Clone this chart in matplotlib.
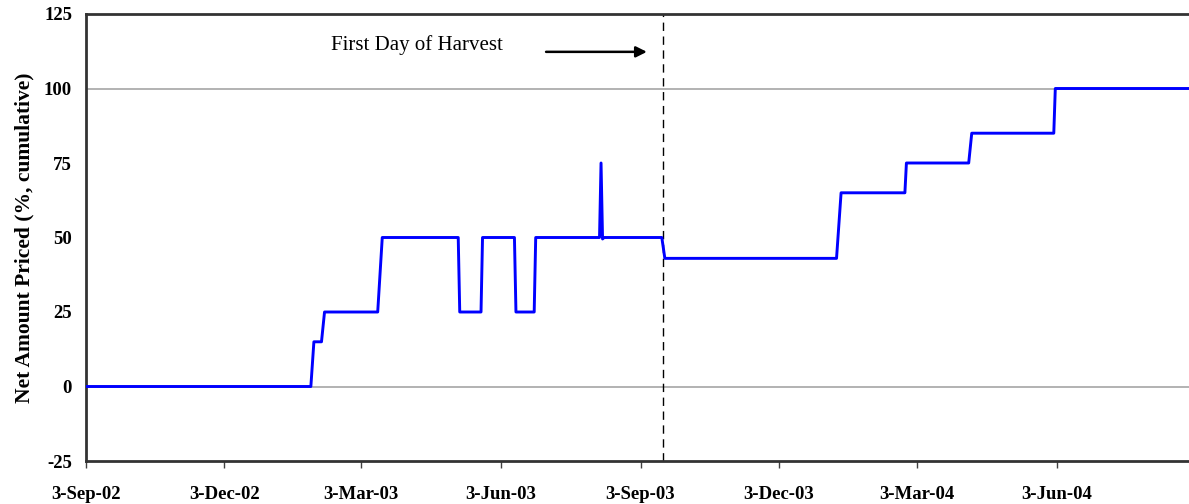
#!/usr/bin/env python3
import pandas as pd
import matplotlib
matplotlib.use("Agg")
import matplotlib.pyplot as plt

plt.rcParams['font.family'] = ['Liberation Serif', 'DejaVu Serif']

# breakpoints of the net amount priced series
dates = ["2002-09-03", "2003-01-29", "2003-01-31", "2003-02-05", "2003-02-07",
         "2003-03-14", "2003-03-17", "2003-05-06", "2003-05-07", "2003-05-21",
         "2003-05-22", "2003-06-12", "2003-06-13", "2003-06-25", "2003-06-26",
         "2003-08-07", "2003-08-08", "2003-08-09", "2003-08-10", "2003-09-17",
         "2003-09-19", "2004-01-10", "2004-01-13", "2004-02-24", "2004-02-25",
         "2004-04-06", "2004-04-08", "2004-06-01", "2004-06-02", "2004-08-29"]
priced = [0, 0, 15, 15, 25,
          25, 50, 50, 25, 25,
          50, 50, 25, 25, 50,
          50, 75, 49.5, 50, 50,
          43, 43, 65, 65, 75,
          75, 85, 85, 100, 100]

tick_dates = ["2002-09-03", "2002-12-03", "2003-03-03", "2003-06-03",
              "2003-09-03", "2003-12-03", "2004-03-03", "2004-06-03"]
tick_labels = ["3-Sep-02", "3-Dec-02", "3-Mar-03", "3-Jun-03",
               "3-Sep-03", "3-Dec-03", "3-Mar-04", "3-Jun-04"]
y_ticks = [-25, 0, 25, 50, 75, 100, 125]
harvest_day = "2003-09-18"

x = pd.to_datetime(dates)
fig = plt.figure(figsize=(11.89, 5.04), dpi=100)
ax = fig.add_axes([86/1189, 43/504, 1103/1189, 447/504])

ax.axhline(0, color='#a6a6a6', lw=1.2, zorder=1)
ax.axhline(100, color='#a6a6a6', lw=1.2, zorder=1)
ax.axvline(pd.Timestamp(harvest_day), color='black', lw=1, linestyle=(0, (6, 4)), zorder=2)

ax.plot(x, priced, color='#0000ff', lw=2.1, zorder=3)

ax.set_xlim(pd.Timestamp("2002-09-03"), pd.Timestamp("2004-08-29"))
ax.set_ylim(-25, 125)
ax.set_yticks(y_ticks)
ax.set_yticklabels([str(v) for v in y_ticks], fontsize=13.5, fontweight='bold')
ax.set_xticks(pd.to_datetime(tick_dates))
ax.set_xticklabels(tick_labels, fontsize=13.5, fontweight='bold')
ax.tick_params(axis='y', length=0, pad=10)
ax.tick_params(axis='x', length=5, width=1, color='#404040', pad=13)

ax.set_ylabel("Net Amount Priced (%, cumulative)", fontsize=15.5, fontweight='bold', labelpad=7)

ax.text(pd.Timestamp("2003-02-11"), 114.6, "First Day of Harvest", fontsize=15,
        ha='left', va='center')
ax.annotate("", xy=(pd.Timestamp("2003-09-09"), 112.3), xytext=(pd.Timestamp("2003-07-01"), 112.3),
            arrowprops=dict(arrowstyle='-|>', color='black', lw=1.8, mutation_scale=16))

for side in ['left', 'bottom', 'top']:
    ax.spines[side].set_linewidth(2)
    ax.spines[side].set_color('#333333')
ax.spines['right'].set_visible(False)

plt.savefig('out.png', dpi=100)
